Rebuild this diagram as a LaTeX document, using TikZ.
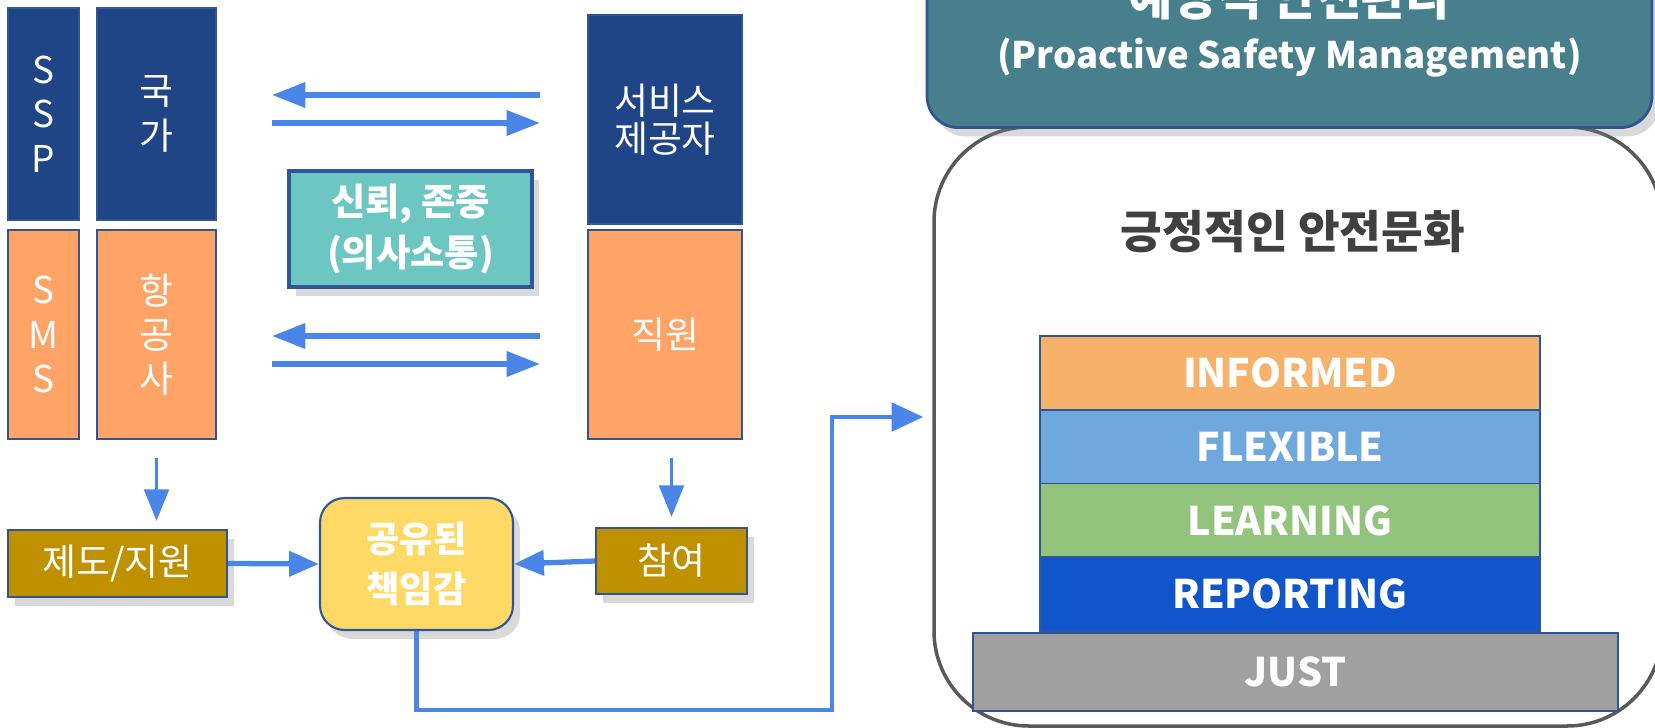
\documentclass[tikz,border=0pt]{standalone}
\usepackage{fontspec}
\setmainfont{Noto Sans CJK KR}
\usetikzlibrary{positioning,shadows,arrows.meta}

\definecolor{navy}{HTML}{1F4587}
\definecolor{peach}{HTML}{FFA366}
\definecolor{edgeblue}{HTML}{2F5597}
\definecolor{trustteal}{HTML}{6CC6C1}
\definecolor{gold}{HTML}{BF9000}
\definecolor{sharedyellow}{HTML}{FFD966}
\definecolor{flowblue}{HTML}{4A86E8}
\definecolor{titleteal}{HTML}{47808C}
\definecolor{framegray}{HTML}{595959}
\definecolor{headgray}{HTML}{404040}
\definecolor{informed}{HTML}{F6B26B}
\definecolor{flexible}{HTML}{6FA8DC}
\definecolor{learning}{HTML}{93C47D}
\definecolor{reporting}{HTML}{1155CC}
\definecolor{justgray}{HTML}{A0A0A0}

\begin{document}
\begin{tikzpicture}[x=1cm,y=-1cm]
  \tikzset{
    block/.style={draw=edgeblue, line width=0.6pt, text=white, align=center, inner sep=0pt,
      font=\fontsize{10.5}{12.6}\selectfont},
    navyblock/.style={block, fill=navy},
    peachblock/.style={block, fill=peach},
    shade/.style={drop shadow={opacity=0.3, shadow xshift=2pt, shadow yshift=-2.5pt}},
    goldbox/.style={block, fill=gold, shade},
    flow/.style={draw=flowblue, line width=1.5pt, -{Triangle[length=9.5pt,width=7pt]}},
    thinflow/.style={draw=flowblue, line width=1pt, -{Triangle[length=9pt,width=7pt]}},
    layer/.style={draw=edgeblue, line width=0.5pt, minimum width=5cm, minimum height=0.7375cm,
      inner sep=0pt, text=white, font=\fontsize{11.2}{13}\selectfont\bfseries}
  }
  \useasboundingbox (0,0) rectangle (16.55,7.28);

  % state / provider side
  \node[navyblock, minimum width=0.71cm, minimum height=2.12cm] (ssp) at (0.435,1.14) {S\\S\\P};
  \node[navyblock, minimum width=1.19cm, minimum height=2.12cm] (gukga) at (1.565,1.14) {국\\가};
  \node[peachblock, minimum width=0.71cm, minimum height=2.09cm] (sms) at (0.435,3.345) {S\\M\\S};
  \node[peachblock, minimum width=1.19cm, minimum height=2.09cm] (hang) at (1.565,3.345) {항\\공\\사};
  \node[navyblock, minimum width=1.54cm, minimum height=2.09cm,
    font=\fontsize{10.5}{10.8}\selectfont] (seobiseu) at (6.65,1.195) {서비스\\제공자};
  \node[peachblock, minimum width=1.54cm, minimum height=2.09cm] (jikwon) at (6.65,3.345) {직원};

  \node[block, fill=trustteal, shade, line width=1pt, minimum width=2.43cm, minimum height=1.16cm,
    font=\fontsize{10.6}{14.4}\selectfont\bfseries] (trust) at (4.105,2.29) {신뢰, 존중\\(의사소통)};

  \coordinate (row1) at (0,0.95);
  \coordinate (row2) at (0,1.23);
  \coordinate (row3) at (0,3.36);
  \coordinate (row4) at (0,3.64);
  \draw[flow, shorten <=0.47cm, shorten >=0.55cm] (seobiseu.west |- row1) -- (gukga.east |- row1);
  \draw[flow, shorten <=0.55cm, shorten >=0.47cm] (gukga.east |- row2) -- (seobiseu.west |- row2);
  \draw[flow, shorten <=0.47cm, shorten >=0.55cm] (jikwon.west |- row3) -- (hang.east |- row3);
  \draw[flow, shorten <=0.55cm, shorten >=0.47cm] (hang.east |- row4) -- (jikwon.west |- row4);

  % shared responsibility
  \node[goldbox, minimum width=2.19cm, minimum height=0.67cm] (jedo) at (1.175,5.635) {제도/지원};
  \node[goldbox, minimum width=1.51cm, minimum height=0.66cm] (chamyeo) at (6.715,5.61) {참여};
  \node[block, fill=sharedyellow, shade, rounded corners=7pt, minimum width=1.93cm, minimum height=1.32cm,
    font=\fontsize{10.3}{14.2}\selectfont\bfseries] (gongyu) at (4.165,5.64) {공유된\\책임감};

  \draw[thinflow, shorten <=0.18cm, shorten >=0.08cm] (hang.south) -- (hang.south |- jedo.north);
  \draw[thinflow, shorten <=0.18cm, shorten >=0.1cm] (chamyeo.north |- jikwon.south) -- (chamyeo.north);
  \draw[flow, -{Triangle[length=8.5pt,width=7pt]}] (jedo.east) -- (gongyu.west);
  \draw[flow, -{Triangle[length=8.5pt,width=7pt]}] (chamyeo.west) -- (gongyu.east);

  % positive safety culture
  \node[draw=framegray, line width=1pt, rounded corners=27pt, minimum width=7.28cm, minimum height=5.99cm]
    (culture) at (12.98,4.265) {};
  \node[draw=edgeblue, line width=0.8pt, fill=titleteal, rounded corners=9pt, shade, text=white, align=center,
    minimum width=7.25cm, inner ysep=14.4pt, anchor=south, font=\fontsize{10.4}{15}\selectfont\bfseries]
    (mgmttitle) at (12.895,1.29) {{\fontsize{13.7}{15}\selectfont 예방적 안전관리}\\(Proactive Safety Management)};
  \node[text=headgray, font=\fontsize{12.9}{15}\selectfont\bfseries] (posculture) at (12.93,2.32) {긍정적인 안전문화};

  \coordinate (bend) at (8.32,7.10);
  \draw[flow, line width=1.4pt, -{Triangle[length=9pt,width=8pt]}, shorten >=0.09cm]
    (gongyu.south) |- (bend) |- ([yshift=0.095cm]culture.west);

  \foreach \word/\tone [count=\i] in {INFORMED/informed,FLEXIBLE/flexible,LEARNING/learning,REPORTING/reporting}
    \node[layer, fill=\tone] (layer\i) at (12.9,{3.36+0.7375*\i-0.36875}) {\word};
  \node[layer, fill=justgray, minimum width=6.45cm, minimum height=0.78cm, below=0pt of layer4, xshift=0.055cm]
    (just) {JUST};
\end{tikzpicture}
\end{document}
